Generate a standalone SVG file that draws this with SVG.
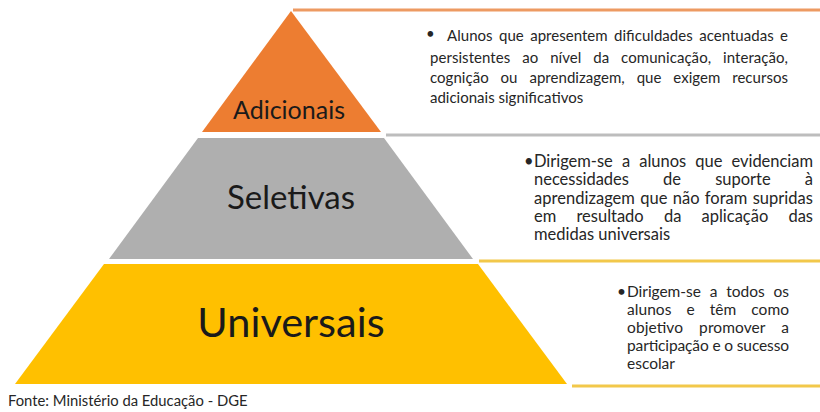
<svg xmlns="http://www.w3.org/2000/svg" width="820" height="412" viewBox="0 0 820 412">
<style>
.lbl{font-family:Lato,"Liberation Sans",sans-serif;fill:#1a1a1a;text-anchor:middle}
.t1{font-family:Lato,"Liberation Sans",sans-serif;font-size:15px;fill:#262626}
.t2{font-family:Lato,"Liberation Sans",sans-serif;font-size:16.5px;fill:#262626}
.t3{font-family:Lato,"Liberation Sans",sans-serif;font-size:15.5px;fill:#262626}
.ln{stroke-width:3;fill:none}
</style>
<rect width="820" height="412" fill="#ffffff"/>
<g id="connectors">
<line class="ln" x1="293" y1="10" x2="820" y2="10" stroke="#ED9A62"/>
<line class="ln" x1="386" y1="135" x2="820" y2="135" stroke="#BDBDBD"/>
<line class="ln" x1="479" y1="261" x2="820" y2="261" stroke="#F2C84A"/>
<line class="ln" x1="572" y1="386" x2="820" y2="386" stroke="#F2C84A"/>
</g>
<g id="adicionais">
<polygon points="291,11 381,132 202,132" fill="#ED7D31"/>
<text class="lbl" x="289" y="119" font-size="25">Adicionais</text>
</g>
<g id="seletivas">
<polygon points="198,138 384,138 473,259 109,259" fill="#AFAFAF"/>
<text class="lbl" x="291" y="209" font-size="33">Seletivas</text>
</g>
<g id="universais">
<polygon points="104,264 478,264 567,384 15,384" fill="#FFC000"/>
<text class="lbl" x="291" y="337" font-size="41.5">Universais</text>
</g>
<g id="desc-adicionais">
<text class="t1" x="426" y="39" font-size="20">•</text>
<text class="t1" x="447" y="41" word-spacing="2.5" textLength="341" lengthAdjust="spacing">Alunos que apresentem dificuldades acentuadas e</text>
<text class="t1" x="430" y="63" word-spacing="8" textLength="358" lengthAdjust="spacing">persistentes ao nível da comunicação, interação,</text>
<text class="t1" x="430" y="83" word-spacing="8" textLength="358" lengthAdjust="spacing">cognição ou aprendizagem, que exigem recursos</text>
<text class="t1" x="430" y="103">adicionais significativos</text>
</g>
<g id="desc-seletivas">
<text class="t2" x="524" y="167" font-size="14">•</text>
<text class="t2" x="534" y="167" word-spacing="5" textLength="279" lengthAdjust="spacing">Dirigem-se a alunos que evidenciam</text>
<text class="t2" x="534" y="185" word-spacing="30" textLength="279" lengthAdjust="spacing">necessidades de suporte à</text>
<text class="t2" x="534" y="204" word-spacing="1" textLength="279" lengthAdjust="spacing">aprendizagem que não foram supridas</text>
<text class="t2" x="534" y="222" word-spacing="16" textLength="279" lengthAdjust="spacing">em resultado da aplicação das</text>
<text class="t2" x="534" y="240">medidas universais</text>
</g>
<g id="desc-universais">
<text class="t3" x="617" y="297" font-size="13.5">•</text>
<text class="t3" x="627" y="297" word-spacing="5" textLength="162" lengthAdjust="spacing">Dirigem-se a todos os</text>
<text class="t3" x="627" y="315" word-spacing="11" textLength="162" lengthAdjust="spacing">alunos e têm como</text>
<text class="t3" x="627" y="333" word-spacing="12" textLength="162" lengthAdjust="spacing">objetivo promover a</text>
<text class="t3" x="627" y="351" word-spacing="0" textLength="162" lengthAdjust="spacing">participação e o sucesso</text>
<text class="t3" x="627" y="369">escolar</text>
</g>
<text x="8" y="406" font-family="Lato,'Liberation Sans',sans-serif" font-size="14.8" fill="#262626">Fonte: Ministério da Educação - DGE</text>
</svg>
